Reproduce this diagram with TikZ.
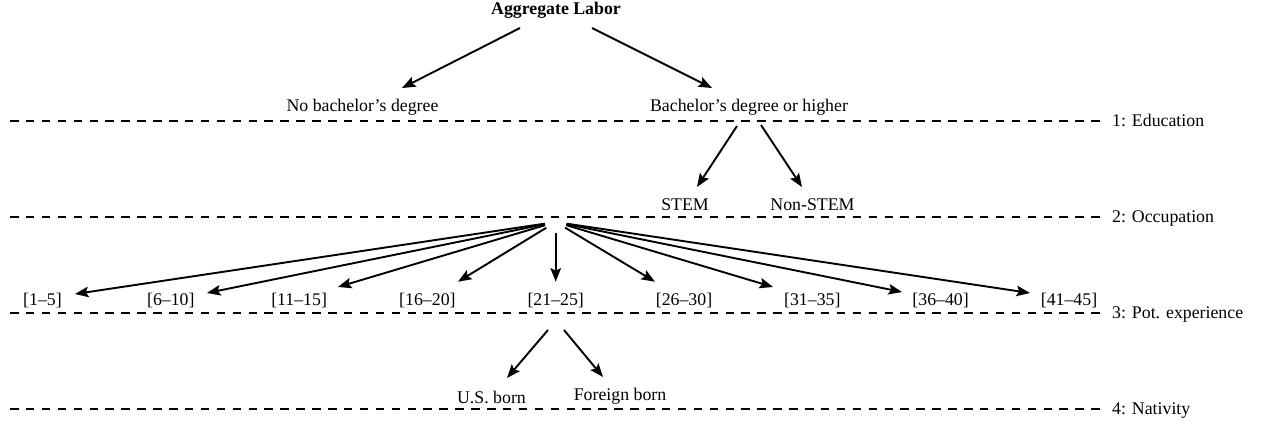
\documentclass[tikz,border=0pt]{standalone}
\usepackage{fontspec}
\setmainfont{Liberation Serif}
\usetikzlibrary{arrows.meta}
\begin{document}
\begin{tikzpicture}[x=1pt,y=-1pt,
  txt/.style={inner sep=0pt,font=\fontsize{17.8pt}{20pt}\selectfont},
  lbl/.style={txt,anchor=base},
  lvl/.style={txt,anchor=base west},
  arr/.style={line width=1.9pt,-{Stealth[length=13.5pt,width=10.5pt,inset=2.5pt]}},
  sep/.style={line width=2pt,dash pattern=on 8.5pt off 7.4pt}]
\useasboundingbox (0,0) rectangle (1261,425);

% level separators
\foreach \y/\t [count=\i] in {121/1: Education,217/2: Occupation,313/3: Pot. experience,409/4: Nativity}{
  \draw[sep] (10,\y) -- (1102,\y);
  \node[lvl] (lev\i) at (1112,\y+5.3) {\t};
}

% nodes
\node[lbl,font={\fontsize{17.8pt}{20pt}\selectfont\bfseries}] (agg) at (556,15) {Aggregate Labor};
\node[lbl] (nob) at (362.5,111.5) {No bachelor's degree};
\node[lbl] (bach) at (749,111.5) {Bachelor's degree or higher};
\node[lbl] (stem) at (685,210) {STEM};
\node[lbl] (nonstem) at (812.5,210) {Non-STEM};
\foreach \x/\t [count=\i] in {42.5/{[1--5]},170.8/{[6--10]},299.1/{[11--15]},427.4/{[16--20]},555.7/{[21--25]},684/{[26--30]},812.3/{[31--35]},940.6/{[36--40]},1069/{[41--45]}}{
  \node[lbl] (x\i) at (\x,305) {\t};
}
\node[lbl] (us) at (491.5,403) {U.S. born};
\node[lbl] (fb) at (620,400.5) {Foreign born};

% connector ends
\coordinate (aggL) at (520,28);  \coordinate (nobT) at (402,88);
\coordinate (aggR) at (592,28);  \coordinate (bachT) at (712,88);
\coordinate (bachL) at (737,126); \coordinate (stemT) at (697,187);
\coordinate (bachR) at (761,125); \coordinate (nonstemT) at (802,187);
\coordinate (hub) at (555.7,222);
\coordinate (xt1) at (75,294);
\coordinate (xt2) at (207,293);
\coordinate (xt3) at (338,287);
\coordinate (xt4) at (458,281.7);
\coordinate (xt5) at (555.7,281.7);
\coordinate (xt6) at (655,281.7);
\coordinate (xt7) at (773,287);
\coordinate (xt8) at (902,292);
\coordinate (xt9) at (1030,293);
\coordinate (natL) at (548,330); \coordinate (usT) at (507,378);
\coordinate (natR) at (564,330); \coordinate (fbT) at (603,377);

% connectors
\draw[arr] (aggL) -- (nobT);
\draw[arr] (aggR) -- (bachT);
\draw[arr] (bachL) -- (stemT);
\draw[arr] (bachR) -- (nonstemT);
\foreach \i in {1,...,9}{
  \draw[arr,shorten <=11pt] (hub) -- (xt\i);
}
\draw[arr] (natL) -- (usT);
\draw[arr] (natR) -- (fbT);
\end{tikzpicture}
\end{document}
